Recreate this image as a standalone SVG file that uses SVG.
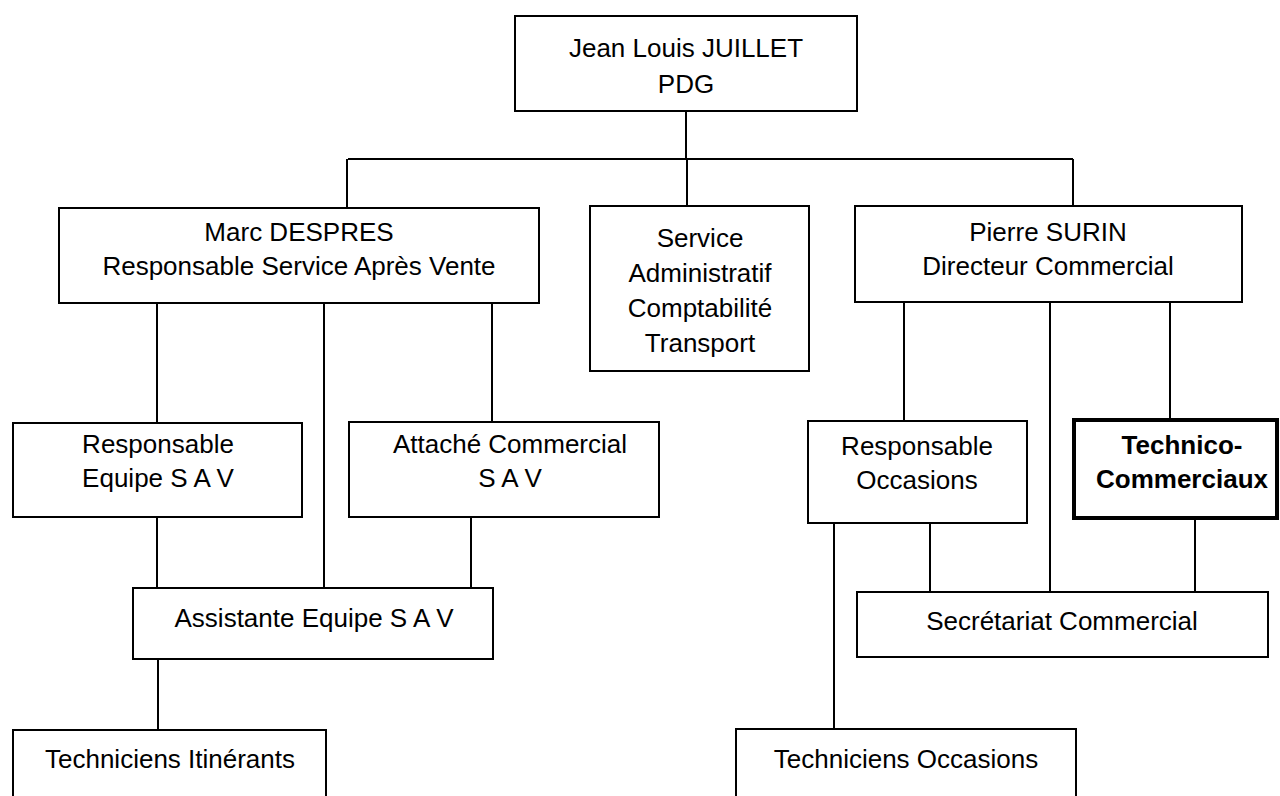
<svg xmlns="http://www.w3.org/2000/svg" width="1280" height="796" viewBox="0 0 1280 796">
<style>
.box{fill:#fff;stroke:#000;stroke-width:2}
.bold{fill:#fff;stroke:#000;stroke-width:4}
.t{font-family:"Liberation Sans",Arial,sans-serif;font-size:26px;fill:#000;text-anchor:middle}
.tb{font-family:"Liberation Sans",Arial,sans-serif;font-size:26px;font-weight:bold;fill:#000;text-anchor:middle}
.c{stroke:#000;stroke-width:2;fill:none}
</style>
<rect width="1280" height="796" fill="#fff"/>
<g id="connectors" class="c">
<path d="M686 111V159M348 159H1073M347 159V208M687 159V206M1073 159V206"/>
<path d="M157 303V423M324 303V588M492 303V423M157 517V588M471 517V588M158 659V730"/>
<path d="M904 302V421M1050 302V592M1170 302V420M834 523V729M930 523V592M1195 518V592"/>
</g>
<g id="pdg"><rect class="box" x="515" y="16" width="342" height="95"/><text class="t" x="686" y="57">Jean Louis JUILLET</text><text class="t" x="686" y="93">PDG</text></g>
<g id="marc"><rect class="box" x="59" y="208" width="480" height="95"/><text class="t" x="299" y="241">Marc DESPRES</text><text class="t" x="299" y="275">Responsable Service Après Vente</text></g>
<g id="service"><rect class="box" x="590" y="206" width="219" height="165"/><text class="t" x="700" y="247">Service</text><text class="t" x="700" y="282">Administratif</text><text class="t" x="700" y="317">Comptabilité</text><text class="t" x="700" y="352">Transport</text></g>
<g id="pierre"><rect class="box" x="855" y="206" width="387" height="96"/><text class="t" x="1048" y="241">Pierre SURIN</text><text class="t" x="1048" y="275">Directeur Commercial</text></g>
<g id="resp-equipe"><rect class="box" x="13" y="423" width="289" height="94"/><text class="t" x="158" y="453">Responsable</text><text class="t" x="158" y="487">Equipe S A V</text></g>
<g id="attache"><rect class="box" x="349" y="422" width="310" height="95"/><text class="t" x="510" y="453">Attaché Commercial</text><text class="t" x="510" y="487">S A V</text></g>
<g id="assistante"><rect class="box" x="133" y="588" width="360" height="71"/><text class="t" x="314" y="627">Assistante Equipe S A V</text></g>
<g id="tech-itinerants"><rect class="box" x="13" y="730" width="313" height="80"/><text class="t" x="170" y="768">Techniciens Itinérants</text></g>
<g id="resp-occasions"><rect class="box" x="808" y="421" width="219" height="102"/><text class="t" x="917" y="455">Responsable</text><text class="t" x="917" y="489">Occasions</text></g>
<g id="technico"><rect class="bold" x="1074" y="420" width="203" height="98"/><text class="tb" x="1182" y="454">Technico-</text><text class="tb" x="1182" y="488">Commerciaux</text></g>
<g id="secretariat"><rect class="box" x="857" y="592" width="411" height="65"/><text class="t" x="1062" y="630">Secrétariat Commercial</text></g>
<g id="tech-occasions"><rect class="box" x="736" y="729" width="340" height="80"/><text class="t" x="906" y="768">Techniciens Occasions</text></g>
</svg>
